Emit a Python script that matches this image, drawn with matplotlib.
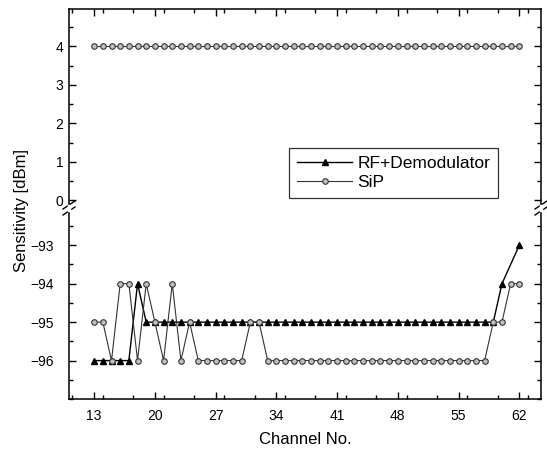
import matplotlib
matplotlib.use("Agg")
import matplotlib.pyplot as plt
from matplotlib.lines import Line2D
from matplotlib.ticker import MultipleLocator

plt.rcParams['font.family'] = ['Liberation Sans', 'DejaVu Sans']

channels = list(range(13, 63))
rf_channels = list(range(13, 61)) + [62]
rf_values = ([-96, -96, -96, -96, -96, -94] + [-95] * 40 + [-95, -94, -93])
sip_values = ([-95, -95, -96, -94, -94, -96, -94, -95, -96, -94, -96, -95,
               -96, -96, -96, -96, -96, -96, -95, -95] + [-96] * 26 +
              [-95, -95, -94, -94])
upper_values = [4] * 50
xticks = [13, 20, 27, 34, 41, 48, 55, 62]

W, H = 547, 454
fig = plt.figure(figsize=(W / 100, H / 100), dpi=100)
L, R, T, B, M = 69, 541, 9, 399, 208
ax_up = fig.add_axes([L / W, (H - M) / H, (R - L) / W, (M - T) / H])
ax_lo = fig.add_axes([L / W, (H - B) / H, (R - L) / W, (B - M) / H])

sip_style = dict(color='#333333', lw=0.8, marker='o', ms=4.0,
                 mfc='#c0c0c0', mec='#333333', mew=0.8)
ax_up.plot(channels, upper_values, **sip_style)
ax_lo.plot(rf_channels, rf_values, color='black', lw=1.0, marker='^', ms=4.5,
           mfc='black', mec='black', label='RF+Demodulator')
ax_lo.plot(channels, sip_values, label='SiP', **sip_style)

for ax in (ax_up, ax_lo):
    ax.set_xlim(10.1, 64.5)
    ax.set_xticks(xticks)
    ax.xaxis.set_minor_locator(MultipleLocator(3.5))
    ax.yaxis.set_major_locator(MultipleLocator(1))
    ax.yaxis.set_minor_locator(MultipleLocator(0.5))
    ax.tick_params(which='both', direction='in', top=True, right=True,
                   labelsize=10, width=1)
    ax.tick_params(which='major', length=5)
    ax.tick_params(which='minor', length=3)
    for s in ax.spines.values():
        s.set_linewidth(1.1)

ax_up.set_ylim(-0.2, 4.97)
ax_up.set_yticks([0, 1, 2, 3, 4])
ax_up.spines['bottom'].set_visible(False)
ax_up.tick_params(axis='x', which='both', bottom=False, labelbottom=False)
ax_up.tick_params(axis='y', pad=4)

ax_lo.set_ylim(-97, -92.03)
ax_lo.set_yticks([-96, -95, -94, -93])
ax_lo.spines['top'].set_visible(False)
ax_lo.tick_params(axis='x', which='both', top=False, pad=7)
ax_lo.tick_params(axis='y', pad=11)

# break marks
for xp in (L, R):
    for dy in (-3, 3):
        fig.add_artist(Line2D([(xp - 6) / W, (xp + 6) / W],
                              [(H - (M + dy + 4)) / H, (H - (M + dy - 4)) / H],
                              color='black', lw=1.0))
    fig.add_artist(Line2D([xp / W, xp / W], [(H - M - 2) / H, (H - M + 2) / H],
                          color='white', lw=2.5))

leg = ax_lo.legend(loc='lower left', bbox_to_anchor=(289 / W, (H - 198) / H),
                   bbox_transform=fig.transFigure, borderaxespad=0,
                   fontsize=12.5, frameon=True, fancybox=False, handlelength=3.2,
                   handletextpad=0.3, borderpad=0.45, labelspacing=0.25)
leg.get_frame().set_edgecolor('black')
leg.get_frame().set_linewidth(0.9)

fig.text((L + R) / 2 / W, (H - 440) / H, 'Channel No.', ha='center',
         va='center', fontsize=12)
fig.text(22 / W, (H - 210) / H, 'Sensitivity [dBm]', ha='center',
         va='center', rotation=90, fontsize=12)

fig.savefig('out.png', dpi=100)
